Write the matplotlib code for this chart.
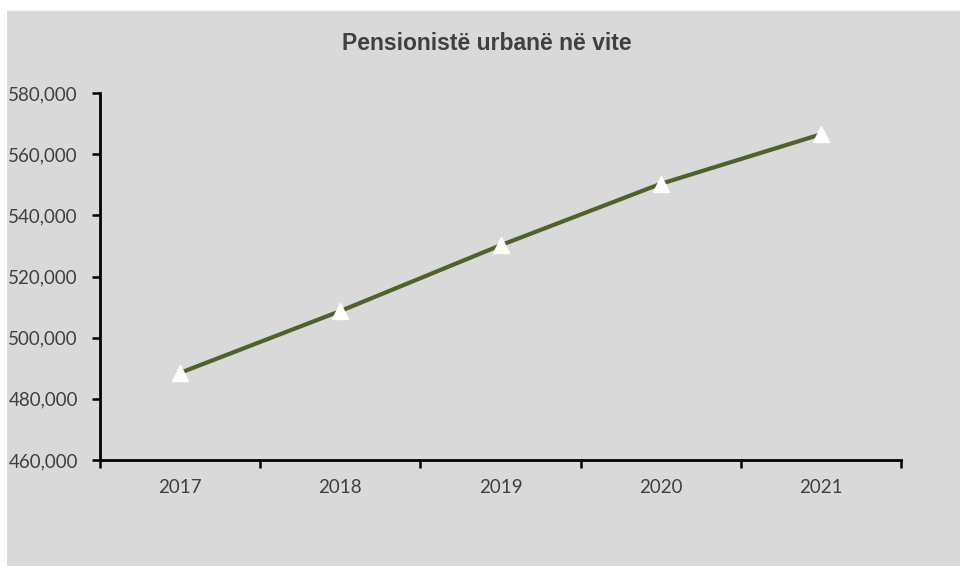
import matplotlib
matplotlib.use("Agg")
import matplotlib.pyplot as plt
from matplotlib.ticker import FuncFormatter, FixedLocator, NullFormatter

years = ["2017", "2018", "2019", "2020", "2021"]
pensioners = [488500, 508700, 530200, 550300, 566500]
title = "Pensionistë urbanë në vite"
y_min, y_max, y_step = 460000, 580000, 20000

W, H = 960, 567
fig = plt.figure(figsize=(W / 100, H / 100), dpi=100)
fig.patch.set_facecolor("white")
bg = fig.add_axes([7 / W, 1 / H, 1 - 7 / W, (H - 12) / H])
bg.set_facecolor("#d9d9d9")
bg.set_axis_off()
bg.add_patch(plt.Rectangle((0, 0), 1, 1, transform=bg.transAxes,
                           facecolor="#d9d9d9", edgecolor="none"))
bg.set_zorder(0)

ax = fig.add_axes([100 / W, (H - 460) / H, (901 - 100) / W, (460 - 93) / H])
ax.set_zorder(1)
ax.set_facecolor("none")
x = list(range(len(years)))
ax.plot(x, pensioners, color="#4f6228", linewidth=3, marker="^",
        markersize=12, markerfacecolor="white", markeredgecolor="white",
        zorder=3, clip_on=False)

ax.set_xlim(-0.5, len(years) - 0.5)
ax.set_ylim(y_min, y_max)
ax.set_yticks(range(y_min, y_max + 1, y_step))
ax.yaxis.set_major_formatter(FuncFormatter(lambda v, p: f"{int(v):,}"))
ax.set_xticks(x)
ax.set_xticklabels(years)
ax.xaxis.set_minor_locator(FixedLocator([i - 0.5 for i in range(len(years) + 1)]))
ax.xaxis.set_minor_formatter(NullFormatter())
ax.tick_params(axis="x", which="major", length=0, pad=14, labelsize=13.5, labelcolor="#404040")
ax.tick_params(axis="x", which="minor", length=6, width=1.8, direction="out", color="black")
ax.tick_params(axis="y", which="major", length=6, width=1.8, direction="out", pad=10,
               labelsize=13.5, labelcolor="#404040")

for s in ["top", "right"]:
    ax.spines[s].set_visible(False)
for s in ["left", "bottom"]:
    ax.spines[s].set_linewidth(2)
    ax.spines[s].set_color("black")

for lab in ax.get_xticklabels() + ax.get_yticklabels():
    lab.set_family(["Lato", "DejaVu Sans"])

fig.text(487 / W, 1 - 43 / H, title, ha="center", va="center", fontsize=16.5,
         fontweight="bold", color="#404040", family=["Liberation Sans", "DejaVu Sans"],
         zorder=5)

fig.savefig("out.png", dpi=100)
